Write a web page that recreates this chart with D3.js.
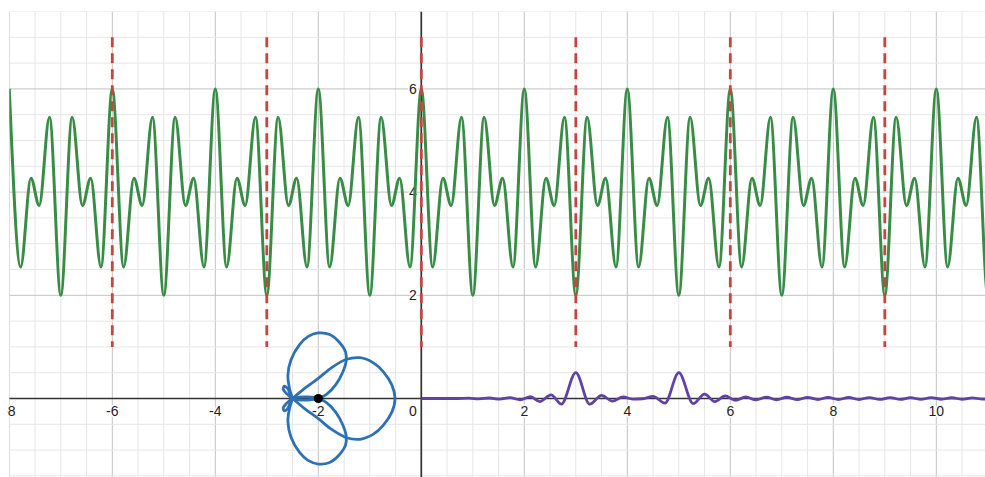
<!DOCTYPE html>
<html>
<head>
<meta charset="utf-8">
<script src="https://cdn.jsdelivr.net/npm/d3@7"></script>
<style>
  body { margin: 0; background: #fff; }
  svg { display: block; }
  text { font-family: "Liberation Sans", Arial, sans-serif; }
</style>
</head>
<body>
<svg id="chart" width="985" height="477"></svg>
<script>
var width = 985,
    height = 477;

// tick labels
const xTicks = [-8, -6, -4, -2, 0, 2, 4, 6, 8, 10];
const yTicks = [2, 4, 6];

// red dashed segments: x positions, from y=1 to y=7
const dashX = [-6, -3, 0, 3, 6, 9];
const dashY = [1, 7];

// green curve, turning points
const greenPts = [
  [-8, 6], [-7.78, 2.55], [-7.58, 4.27], [-7.42, 3.74], [-7.22, 5.45], [-7, 2], [-6.78, 5.45], [-6.58, 3.74], [-6.42, 4.27], [-6.22, 2.55],
  [-6, 6], [-5.78, 2.55], [-5.58, 4.27], [-5.42, 3.74], [-5.22, 5.45], [-5, 2], [-4.78, 5.45], [-4.58, 3.74], [-4.42, 4.27], [-4.22, 2.55],
  [-4, 6], [-3.78, 2.55], [-3.58, 4.27], [-3.42, 3.74], [-3.22, 5.45], [-3, 2], [-2.78, 5.45], [-2.58, 3.74], [-2.42, 4.27], [-2.22, 2.55],
  [-2, 6], [-1.78, 2.55], [-1.58, 4.27], [-1.42, 3.74], [-1.22, 5.45], [-1, 2], [-0.78, 5.45], [-0.58, 3.74], [-0.42, 4.27], [-0.22, 2.55],
  [0, 6], [0.22, 2.55], [0.42, 4.27], [0.58, 3.74], [0.78, 5.45], [1, 2], [1.22, 5.45], [1.42, 3.74], [1.58, 4.27], [1.78, 2.55],
  [2, 6], [2.22, 2.55], [2.42, 4.27], [2.58, 3.74], [2.78, 5.45], [3, 2], [3.22, 5.45], [3.42, 3.74], [3.58, 4.27], [3.78, 2.55],
  [4, 6], [4.22, 2.55], [4.42, 4.27], [4.58, 3.74], [4.78, 5.45], [5, 2], [5.22, 5.45], [5.42, 3.74], [5.58, 4.27], [5.78, 2.55],
  [6, 6], [6.22, 2.55], [6.42, 4.27], [6.58, 3.74], [6.78, 5.45], [7, 2], [7.22, 5.45], [7.42, 3.74], [7.58, 4.27], [7.78, 2.55],
  [8, 6], [8.22, 2.55], [8.42, 4.27], [8.58, 3.74], [8.78, 5.45], [9, 2], [9.22, 5.45], [9.42, 3.74], [9.58, 4.27], [9.78, 2.55],
  [10, 6], [10.22, 2.55], [10.42, 4.27], [10.58, 3.74], [10.78, 5.45], [11, 2], [11.22, 5.45]
];

// purple curve, turning points
const purplePts = [
  [0, 0], [0.7, 0], [0.92, 0.006], [1.12, -0.008], [1.32, 0.01], [1.52, -0.013], [1.72, 0.016], [1.92, -0.025],
  [2.12, 0.035], [2.3, -0.06], [2.52, 0.07], [2.72, -0.11], [3, 0.5], [3.27, -0.11], [3.5, 0.06], [3.71, -0.05],
  [3.92, 0.03], [4.1, -0.012], [4.3, -0.005], [4.5, 0.04], [4.73, -0.09], [5, 0.5], [5.28, -0.1], [5.5, 0.085],
  [5.7, -0.06], [5.9, 0.05], [6.1, -0.035], [6.3, 0.03], [6.5, -0.028], [6.7, 0.026], [6.9, -0.025], [7.1, 0.024],
  [7.3, -0.022], [7.5, 0.022], [7.7, -0.02], [7.9, 0.02], [8.1, -0.02], [8.3, 0.019], [8.5, -0.019], [8.7, 0.018],
  [8.9, -0.018], [9.1, 0.017], [9.3, -0.017], [9.5, 0.016], [9.7, -0.016], [9.9, 0.016], [10.1, -0.015], [10.3, 0.015],
  [10.5, -0.015], [10.7, 0.014], [10.9, -0.014], [11.1, 0.014]
];

// blue polar curve, traced in pieces (pole at -2,0)
const bluePole = [-2, 0];
const blueRightLobe = [
  [-2.5, 0], [-2.26, 0.2], [-2.0, 0.39], [-1.74, 0.6], [-1.45, 0.76], [-1.19, 0.79], [-0.93, 0.69], [-0.74, 0.52],
  [-0.57, 0.26], [-0.51, 0], [-0.57, -0.26], [-0.74, -0.52], [-0.93, -0.69], [-1.19, -0.79], [-1.45, -0.76],
  [-1.74, -0.6], [-2.0, -0.39], [-2.26, -0.2], [-2.5, 0]
];
const blueTopLobe = [
  [-2.5, 0], [-2.56, 0.2], [-2.59, 0.45], [-2.53, 0.75], [-2.36, 1.05], [-2.2, 1.2], [-2.0, 1.27], [-1.78, 1.24],
  [-1.6, 1.1], [-1.47, 0.9], [-1.46, 0.72], [-1.53, 0.5], [-1.66, 0.27], [-1.84, 0.08], [-2, 0], [-2.2, -0.03],
  [-2.4, -0.025], [-2.5, 0]
];
const blueBottomLobe = [
  [-2.5, 0], [-2.56, -0.2], [-2.59, -0.45], [-2.53, -0.75], [-2.36, -1.05], [-2.2, -1.2], [-2.0, -1.27], [-1.78, -1.24],
  [-1.6, -1.1], [-1.47, -0.9], [-1.46, -0.72], [-1.53, -0.5], [-1.66, -0.27], [-1.84, -0.08], [-2, 0], [-2.2, 0.03],
  [-2.4, 0.025], [-2.5, 0]
];
const bluePetalUp = [[-2.5, 0], [-2.6, 0.08], [-2.68, 0.18], [-2.66, 0.24], [-2.6, 0.2], [-2.55, 0.1], [-2.5, 0]];
const bluePetalDown = [[-2.5, 0], [-2.6, -0.08], [-2.68, -0.18], [-2.66, -0.24], [-2.6, -0.2], [-2.55, -0.1], [-2.5, 0]];

var svg = d3.select('#chart');

var x = d3.scaleLinear().domain([-8, 11]).range([9.3, 987.8]);
var y = d3.scaleLinear().domain([-1.5, 7.5]).range([475.9, 11.5]);

svg.append('rect').attr('width', width).attr('height', height).attr('fill', '#fff');

var defs = svg.append('defs');
defs.append('clipPath').attr('id', 'plot')
  .append('rect')
  .attr('x', x(-8)).attr('y', y(7.5))
  .attr('width', width - x(-8)).attr('height', height - y(7.5));
defs.append('clipPath').attr('id', 'labels')
  .append('rect')
  .attr('x', 7).attr('y', 0)
  .attr('width', width).attr('height', height);

var plot = svg.append('g').attr('clip-path', 'url(#plot)');

// grid
var minorX = d3.range(-8, 11.01, 0.5),
    minorY = d3.range(-1.5, 7.51, 0.5);

plot.append('g').selectAll('line').data(minorX).join('line')
  .attr('x1', d => x(d)).attr('x2', d => x(d))
  .attr('y1', y(7.5)).attr('y2', height)
  .attr('stroke', d => d % 2 === 0 ? '#c2c2c2' : '#e6e6e6')
  .attr('stroke-width', 1);

plot.append('g').selectAll('line').data(minorY).join('line')
  .attr('y1', d => y(d)).attr('y2', d => y(d))
  .attr('x1', x(-8)).attr('x2', width)
  .attr('stroke', d => d % 2 === 0 ? '#c2c2c2' : '#e6e6e6')
  .attr('stroke-width', 1);

// axes
plot.append('line')
  .attr('x1', x(-8)).attr('x2', width)
  .attr('y1', y(0)).attr('y2', y(0))
  .attr('stroke', '#333').attr('stroke-width', 1.7);
plot.append('line')
  .attr('x1', x(0)).attr('x2', x(0))
  .attr('y1', y(7.5)).attr('y2', height)
  .attr('stroke', '#333').attr('stroke-width', 1.7);

// tick labels
var labels = svg.append('g').attr('clip-path', 'url(#labels)')
  .attr('font-size', 14).attr('fill', '#222')
  .attr('stroke', '#fff').attr('stroke-width', 3)
  .attr('paint-order', 'stroke').attr('stroke-linejoin', 'round');

labels.selectAll('text.xt').data(xTicks).join('text')
  .attr('class', 'xt')
  .attr('x', d => d === 0 ? x(0) - 4.5 : x(d))
  .attr('y', y(0) + 17)
  .attr('text-anchor', d => d === 0 ? 'end' : 'middle')
  .text(d => d);

labels.selectAll('text.yt').data(yTicks).join('text')
  .attr('class', 'yt')
  .attr('x', x(0) - 4.5)
  .attr('y', d => y(d) + 5)
  .attr('text-anchor', 'end')
  .text(d => d);

var curves = svg.append('g').attr('clip-path', 'url(#plot)');

// green curve
var smooth = d3.line()
  .x(d => x(d[0]))
  .y(d => y(d[1]))
  .curve(d3.curveMonotoneX);

curves.append('path')
  .datum(greenPts)
  .attr('d', smooth)
  .attr('fill', 'none')
  .attr('stroke', '#388c46')
  .attr('stroke-width', 3)
  .attr('stroke-linejoin', 'round');

// red dashed segments
curves.append('g').selectAll('line').data(dashX).join('line')
  .attr('x1', d => x(d)).attr('x2', d => x(d))
  .attr('y1', y(dashY[1])).attr('y2', y(dashY[0]))
  .attr('stroke', '#c74440')
  .attr('stroke-width', 2.8)
  .attr('stroke-dasharray', '10,6');

// blue polar curve
var loop = d3.line()
  .x(d => x(d[0]))
  .y(d => y(d[1]))
  .curve(d3.curveCatmullRom.alpha(0.5));

curves.append('g').selectAll('path')
  .data([blueRightLobe, blueTopLobe, blueBottomLobe, bluePetalUp, bluePetalDown])
  .join('path')
  .attr('d', loop)
  .attr('fill', 'none')
  .attr('stroke', '#2d70b3')
  .attr('stroke-width', 2.8)
  .attr('stroke-linejoin', 'round');

curves.append('circle')
  .attr('cx', x(bluePole[0])).attr('cy', y(bluePole[1]))
  .attr('r', 4.6)
  .attr('fill', '#000');

// purple curve
curves.append('path')
  .datum(purplePts)
  .attr('d', smooth)
  .attr('fill', 'none')
  .attr('stroke', '#6042a6')
  .attr('stroke-width', 2.8)
  .attr('stroke-linejoin', 'round');
</script>
</body>
</html>
